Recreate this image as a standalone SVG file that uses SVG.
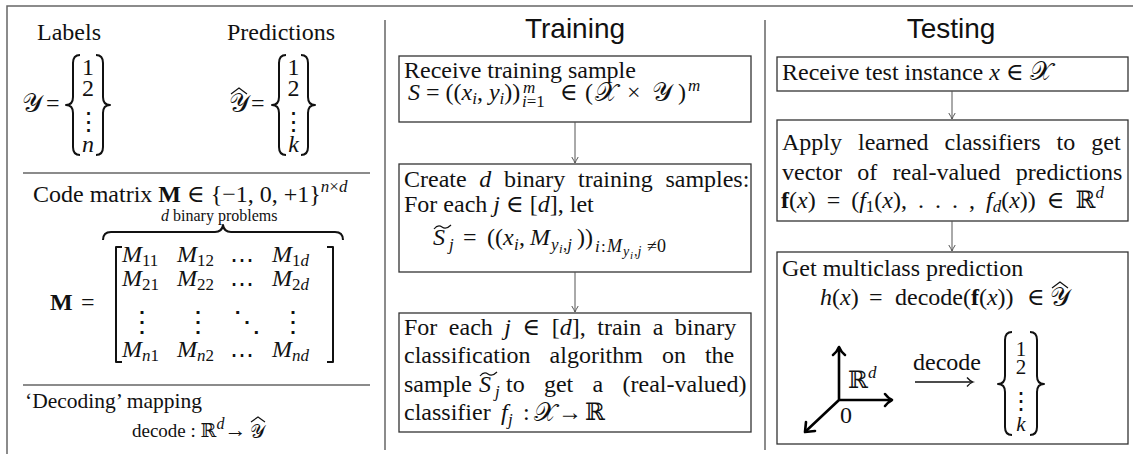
<svg xmlns="http://www.w3.org/2000/svg" width="1133" height="454" viewBox="0 0 1133 454">
<style>
text{font-family:"Liberation Serif","DejaVu Serif","DejaVu Sans",serif;font-size:24px;fill:#111}
.i{font-style:italic}
.n{font-style:normal}
.b{font-weight:bold}
.s{font-size:17px}
.ss{font-size:13px}
.sss{font-size:10px}
.small{font-size:16px}
.dec{font-size:19px}
.dq{font-size:21.5px}
.cal{font-size:26px}
.dots{font-family:"DejaVu Serif",serif;font-size:28px}
.bd{font-family:"DejaVu Serif",serif;font-size:25px}
.cd{font-family:"DejaVu Serif",serif;font-size:24px}
.dg{font-size:21px}
.title{font-family:"Liberation Sans",Arial,sans-serif;font-size:28px}
.frame{stroke:#666;stroke-width:1.5;fill:none}
.box{fill:#fff;stroke:#333;stroke-width:1.3}
.conn{stroke:#555;stroke-width:1;fill:none;marker-end:url(#ah)}
.delim{stroke:#111;stroke-width:2;fill:none;stroke-linejoin:round}
.acc{stroke:#111;stroke-width:1.2;fill:none}
.axis{stroke:#000;stroke-width:2.6;fill:none;stroke-linecap:round;stroke-linejoin:round}
</style>
<defs>
<marker id="ah" markerWidth="9" markerHeight="9" refX="7" refY="4" orient="auto" markerUnits="userSpaceOnUse">
<path d="M1,0.8 Q5,3.2 7,4 Q5,4.8 1,7.2" fill="none" stroke="#555" stroke-width="1"/>
</marker>
</defs>
<rect width="1133" height="454" fill="#fff"/>

<g id="frame">
<path class="frame" d="M7,454 L7,6 L1133,6"/>
<path class="frame" d="M385,20 L385,450 M765,20 L765,450"/>
<path class="frame" d="M23,173 L370,173 M23,385 L370,385"/>
</g>

<g id="labels-predictions">
<text x="37" y="40">Labels</text>
<text x="227" y="40">Predictions</text>
<text x="22" y="112" class="cal">𝒴</text>
<text x="46" y="111">=</text>
<path class="delim" d="M80,55 Q73,55 73,63 L73,97 Q73,105 66,105 Q73,105 73,113 L73,147 Q73,155 80,155"/>
<path class="delim" d="M96,55 Q103,55 103,63 L103,97 Q103,105 110,105 Q103,105 103,113 L103,147 Q103,155 96,155"/>
<text x="88" y="75" text-anchor="middle">1</text>
<text x="88" y="96" text-anchor="middle">2</text>
<text x="88" y="130" text-anchor="middle" class="bd">⋮</text>
<text x="88" y="152" text-anchor="middle" class="i">n</text>
<text x="229" y="112" class="cal">𝒴</text>
<path class="acc" d="M231,94 L239,88 L247,94"/>
<text x="251" y="111">=</text>
<path class="delim" d="M286,55 Q279,55 279,63 L279,97 Q279,105 272,105 Q279,105 279,113 L279,147 Q279,155 286,155"/>
<path class="delim" d="M301,55 Q308,55 308,63 L308,97 Q308,105 315,105 Q308,105 308,113 L308,147 Q308,155 301,155"/>
<text x="293.5" y="75" text-anchor="middle">1</text>
<text x="293.5" y="96" text-anchor="middle">2</text>
<text x="293.5" y="130" text-anchor="middle" class="bd">⋮</text>
<text x="293.5" y="152" text-anchor="middle" class="i">k</text>
</g>

<g id="code-matrix">
<text x="33" y="202">Code matrix <tspan class="b">M</tspan> ∈ {−1, 0, +1}<tspan class="s i" dy="-10">n</tspan><tspan class="s">×</tspan><tspan class="s i">d</tspan></text>
<text x="161" y="221" class="small"><tspan class="i">d</tspan> binary problems</text>
<path class="delim" d="M103,240 Q103,232 111,232 L215,232 Q222,232 223,225 Q224,232 231,232 L335,232 Q343,232 343,240"/>
<text x="50" y="310" class="b">M</text>
<text x="81" y="310">=</text>
<path class="delim" d="M122,247 L116,247 L116,362 L122,362"/>
<path class="delim" d="M327,247 L333,247 L333,362 L327,362"/>
<text x="122" y="262" class="i">M<tspan class="s n" dy="4">11</tspan></text>
<text x="177" y="262" class="i">M<tspan class="s n" dy="4">12</tspan></text>
<text x="230" y="268" class="cd">⋯</text>
<text x="272" y="262" class="i">M<tspan class="s n" dy="4">1</tspan><tspan class="s">d</tspan></text>
<text x="122" y="286" class="i">M<tspan class="s n" dy="4">21</tspan></text>
<text x="177" y="286" class="i">M<tspan class="s n" dy="4">22</tspan></text>
<text x="230" y="292" class="cd">⋯</text>
<text x="272" y="286" class="i">M<tspan class="s n" dy="4">2</tspan><tspan class="s">d</tspan></text>
<text x="142" y="331" class="dots" text-anchor="middle">⋮</text>
<text x="198" y="331" class="dots" text-anchor="middle">⋮</text>
<text x="247" y="331" class="dots" text-anchor="middle">⋱</text>
<text x="293" y="331" class="dots" text-anchor="middle">⋮</text>
<text x="122" y="357" class="i">M<tspan class="s" dy="4">n</tspan><tspan class="s n">1</tspan></text>
<text x="177" y="357" class="i">M<tspan class="s" dy="4">n</tspan><tspan class="s n">2</tspan></text>
<text x="230" y="363" class="cd">⋯</text>
<text x="272" y="357" class="i">M<tspan class="s" dy="4">nd</tspan></text>
</g>

<g id="decoding">
<text x="25" y="408" class="dq">‘Decoding’ mapping</text>
<text x="132" y="437" class="dec">decode : ℝ<tspan class="small i" dy="-8">d</tspan><tspan dy="8" style="font-size:22px">→</tspan></text>
<text x="250" y="438" class="dec">𝒴</text>
<path class="acc" d="M251,422 L258,417 L265,422"/>
</g>

<text x="575" y="38" class="title" text-anchor="middle">Training</text>
<text x="951" y="38" class="title" text-anchor="middle">Testing</text>

<g id="train-receive">
<rect class="box" x="399" y="56" width="352" height="66"/>
<text x="404" y="78">Receive training sample</text>
<text x="408" y="100"><tspan class="i">S</tspan> = ((<tspan class="i">x</tspan><tspan class="s i" dy="4">i</tspan><tspan dy="-4">, </tspan><tspan class="i">y</tspan><tspan class="s i" dy="4">i</tspan><tspan dy="-4">))</tspan></text>
<text x="523" y="93" class="s i">m</text>
<text x="522" y="107" class="s"><tspan class="i">i</tspan>=1</text>
<text x="560" y="100">∈</text>
<text x="585" y="100">(</text>
<text x="595" y="101" class="cal">𝒳</text>
<text x="627" y="100">×</text>
<text x="652" y="101" class="cal">𝒴</text>
<text x="678" y="100">)</text>
<text x="688" y="91" class="s i">m</text>
</g>

<g id="train-create">
<rect class="box" x="399" y="164" width="352" height="108"/>
<text x="404" y="187" word-spacing="6.7">Create <tspan class="i">d</tspan> binary training samples:</text>
<text x="404" y="212">For each <tspan class="i">j</tspan> ∈ [<tspan class="i">d</tspan>], let</text>
<path class="acc" d="M434,229 Q438,224 442,227 Q446,230 451,225"/>
<text x="433" y="245" class="i">S</text>
<text x="449" y="250" class="s i">j</text>
<text x="463" y="245">=</text>
<text x="487" y="245">((</text>
<text x="503" y="245" class="i">x</text>
<text x="514" y="250" class="s i">i</text>
<text x="519" y="245">,</text>
<text x="530" y="245" class="i">M</text>
<text x="551" y="250" class="s i">y</text>
<text x="559" y="253" class="ss i">i</text>
<text x="563" y="250" class="s">,<tspan class="i">j</tspan></text>
<text x="577" y="245">))</text>
<text x="595" y="252" class="s i">i</text>
<text x="601" y="252" class="s">:</text>
<text x="607" y="252" style="font-size:18px" class="i">M</text>
<text x="623" y="256" style="font-size:14px" class="i">y</text>
<text x="630" y="259" style="font-size:11px" class="i">i</text>
<text x="634" y="256" style="font-size:14px">,<tspan class="i">j</tspan></text>
<text x="647" y="252" style="font-size:18px">≠0</text>
</g>

<g id="train-classifiers">
<rect class="box" x="399" y="313" width="352" height="119"/>
<text x="404" y="335" word-spacing="5.5">For each <tspan class="i">j</tspan> ∈ [<tspan class="i">d</tspan>], train a binary</text>
<text x="404" y="363" word-spacing="13">classification algorithm on the</text>
<text x="404" y="392">sample</text>
<path class="acc" d="M480,376 Q484,371 488,374 Q492,377 497,372"/>
<text x="479" y="392" class="i">S</text>
<text x="495" y="397" class="s i">j</text>
<text x="506" y="392" word-spacing="13.3">to get a (real-valued)</text>
<text x="404" y="420">classifier</text>
<text x="501" y="420" class="i">f</text>
<text x="508" y="425" class="s i">j</text>
<text x="523" y="420">:</text>
<text x="534" y="421" class="cal">𝒳</text>
<text x="558" y="420">→</text>
<text x="585" y="420">ℝ</text>
</g>

<g id="test-receive">
<rect class="box" x="777" y="57" width="351" height="34"/>
<text x="782" y="80">Receive test instance <tspan class="i">x</tspan> ∈ <tspan class="cal">𝒳</tspan></text>
</g>

<g id="test-apply">
<rect class="box" x="777" y="120" width="351" height="101"/>
<text x="782" y="150" word-spacing="10">Apply learned classifiers to get</text>
<text x="782" y="180" word-spacing="9.3">vector of real-valued predictions</text>
<text x="781" y="208" word-spacing="5"><tspan class="b">f</tspan>(<tspan class="i">x</tspan>) = (<tspan class="i">f</tspan><tspan class="s" dy="4">1</tspan><tspan dy="-4">(</tspan><tspan class="i">x</tspan>), . . . , <tspan class="i">f</tspan><tspan class="s i" dy="4">d</tspan><tspan dy="-4">(</tspan><tspan class="i">x</tspan>)) ∈ ℝ<tspan class="s i" dy="-10">d</tspan></text>
</g>

<g id="test-predict">
<rect class="box" x="777" y="252" width="351" height="192"/>
<text x="782" y="276">Get multiclass prediction</text>
<text x="820" y="305"><tspan class="i">h</tspan>(<tspan class="i">x</tspan>)</text>
<text x="869" y="305">=</text>
<text x="895" y="305">decode(<tspan class="b">f</tspan>(<tspan class="i">x</tspan>))</text>
<text x="1027" y="305">∈</text>
<text x="1050" y="306" class="cal">𝒴</text>
<path class="acc" d="M1052,288 L1060,282 L1068,288"/>
<path class="axis" d="M839,400 L839,348 M839,400 L891,400 M839,400 L806,431"/>
<path class="axis" stroke-width="2.2" d="M833,355 Q837,352 839,347 Q841,352 845,355"/>
<path class="axis" stroke-width="2.2" d="M885,394 Q888,398 892,400 Q888,402 885,406"/>
<path class="axis" stroke-width="2.2" d="M815,431 L805,432 L806,422"/>
<text x="848" y="388">ℝ<tspan class="s i" dy="-10">d</tspan></text>
<text x="840" y="423">0</text>
<text x="913" y="370">decode</text>
<path d="M915,382 L972,382" stroke="#111" stroke-width="1.3" fill="none"/>
<path d="M967,377.5 Q970,381 973,382 Q970,383 967,386.5" stroke="#111" stroke-width="1.3" fill="none"/>
<path class="delim" d="M1012,332 Q1005,332 1005,340 L1005,376 Q1005,384 998,384 Q1005,384 1005,392 L1005,427 Q1005,435 1012,435"/>
<path class="delim" d="M1030,332 Q1037,332 1037,340 L1037,376 Q1037,384 1044,384 Q1037,384 1037,392 L1037,427 Q1037,435 1030,435"/>
<text x="1021" y="356" text-anchor="middle" class="dg">1</text>
<text x="1021" y="374" text-anchor="middle" class="dg">2</text>
<text x="1021" y="409" text-anchor="middle" class="dots" style="font-size:24px">⋮</text>
<text x="1021" y="431" text-anchor="middle" class="dg i">k</text>
</g>

<g id="connectors">
<path class="conn" d="M575,122 L575,163"/>
<path class="conn" d="M575,272 L575,312"/>
<path class="conn" d="M952,91 L952,119"/>
<path class="conn" d="M952,221 L952,251"/>
</g>
</svg>
